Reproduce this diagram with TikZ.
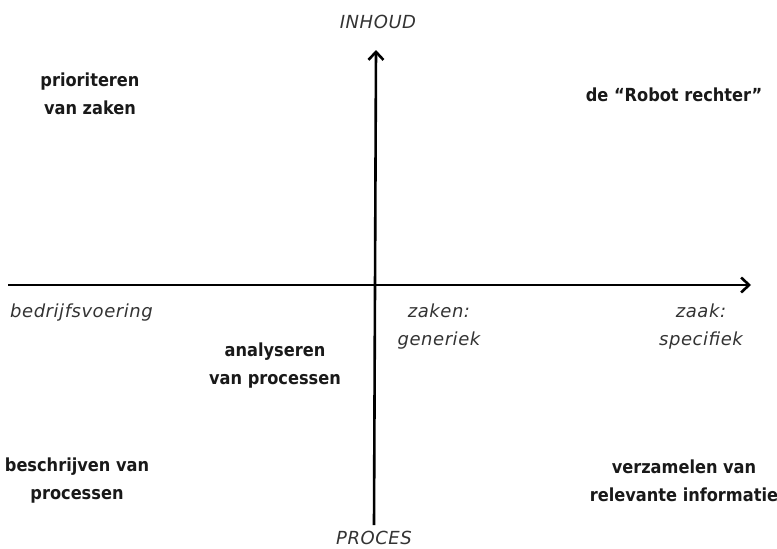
\documentclass[tikz,border=0pt]{standalone}
\usepackage{fontspec}
\setmainfont{DejaVu Sans Condensed}
\newfontfamily\tagfont{DejaVu Sans}
\usetikzlibrary{arrows.meta}
\definecolor{lbl}{HTML}{333333}
\begin{document}
\begin{tikzpicture}[x=1pt,y=-1pt,
  axis/.style={line width=2.6pt,-{Straight Barb[length=8pt,width=15pt,line width=2.6pt]}},
  item/.style={font=\fontsize{18}{28}\selectfont\bfseries,align=center,text=black!90,inner sep=0pt},
  tag/.style={font=\tagfont\fontsize{18}{28}\selectfont\itshape\addfontfeature{LetterSpace=3},align=center,text=lbl,inner sep=0pt}]
\useasboundingbox (0,0) rectangle (777,549);
\coordinate (vb) at (374,525);
\coordinate (vt) at (376,50);
\coordinate (hl) at (8,285);
\coordinate (hr) at (751,285);
\draw[axis] (vb) -- (vt);
\draw[axis] (hl) -- (hr);
\node[tag] (inhoud) at (378,22) {INHOUD};
\node[tag] (proces) at (374,538) {PROCES};
\node[item] (prio) at (90,94) {prioriteren\\van zaken};
\node[item] (robot) at (674,95) {de “Robot rechter”};
\node[tag,anchor=west] (bedrijf) at (10,313) {bedrijfsvoering};
\node[item] (analyse) at (275,366) {analyseren\\van processen};
\node[tag] (zaken) at (439,327) {zaken:\\generiek};
\node[tag] (zaak) at (701,327) {zaak:\\specifiek};
\node[item] (beschr) at (77,481) {beschrijven van\\processen};
\node[item] (verzam) at (684,481) {verzamelen van\\relevante informatie};
\end{tikzpicture}
\end{document}
